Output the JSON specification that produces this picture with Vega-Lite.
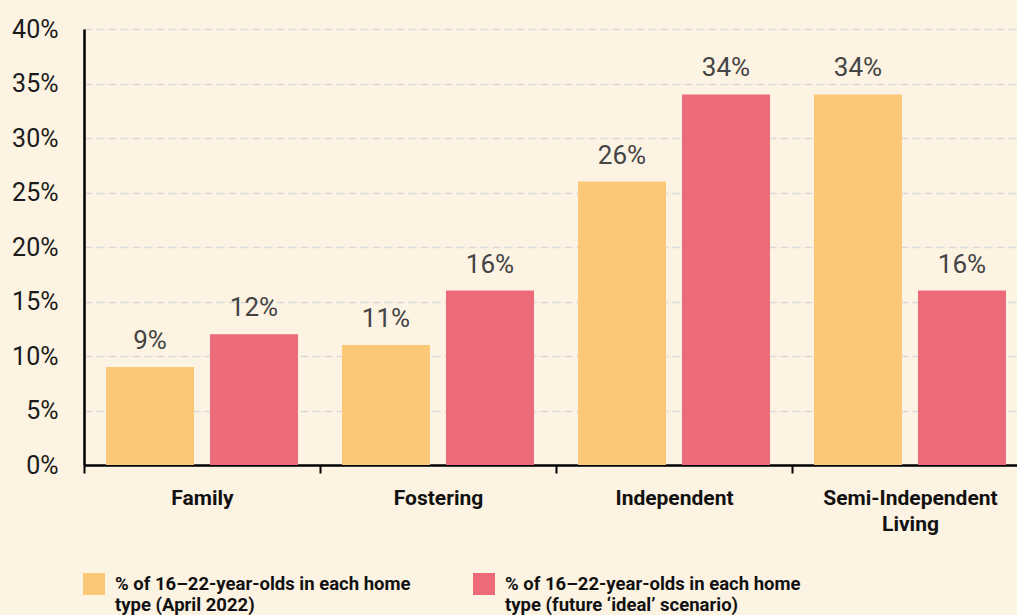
{
  "$schema": "https://vega.github.io/schema/vega-lite/v6.json",
  "width": 944,
  "height": 436,
  "autosize": "none",
  "padding": {"left": 84, "top": 29, "right": 0, "bottom": 150},
  "background": "#fdf3e3",
  "config": {
    "font": "Roboto",
    "view": {"stroke": null}
  },
  "data": {
    "values": [
      {"type": "Family", "series": "% of 16–22-year-olds in each home|type (April 2022)", "value": 0.09},
      {"type": "Family", "series": "% of 16–22-year-olds in each home|type (future ‘ideal’ scenario)", "value": 0.12},
      {"type": "Fostering", "series": "% of 16–22-year-olds in each home|type (April 2022)", "value": 0.11},
      {"type": "Fostering", "series": "% of 16–22-year-olds in each home|type (future ‘ideal’ scenario)", "value": 0.16},
      {"type": "Independent", "series": "% of 16–22-year-olds in each home|type (April 2022)", "value": 0.26},
      {"type": "Independent", "series": "% of 16–22-year-olds in each home|type (future ‘ideal’ scenario)", "value": 0.34},
      {"type": "Semi-Independent Living", "series": "% of 16–22-year-olds in each home|type (April 2022)", "value": 0.34},
      {"type": "Semi-Independent Living", "series": "% of 16–22-year-olds in each home|type (future ‘ideal’ scenario)", "value": 0.16}
    ]
  },
  "encoding": {
    "x": {
      "field": "type",
      "type": "nominal",
      "sort": ["Family", "Fostering", "Independent", "Semi-Independent Living"],
      "title": null,
      "scale": {"paddingInner": 0, "paddingOuter": 0},
      "axis": {
        "labelAngle": 0,
        "labelExpr": "datum.label == 'Semi-Independent Living' ? ['Semi-Independent', 'Living'] : datum.label",
        "labelFontSize": 21,
        "labelFontWeight": "bold",
        "labelColor": "#111111",
        "labelBaseline": "top",
        "labelPadding": 14,
        "labelLineHeight": 26,
        "labelLimit": 400,
        "domainColor": "#000000",
        "domainWidth": 2.5,
        "ticks": true,
        "tickBand": "extent",
        "tickColor": "#000000",
        "tickWidth": 2,
        "tickSize": 8,
        "grid": false
      }
    },
    "xOffset": {
      "field": "series",
      "type": "nominal",
      "sort": ["% of 16–22-year-olds in each home|type (April 2022)", "% of 16–22-year-olds in each home|type (future ‘ideal’ scenario)"],
      "scale": {"paddingInner": 0.1538, "paddingOuter": 0.2115}
    },
    "y": {
      "field": "value",
      "type": "quantitative",
      "title": null,
      "scale": {"domain": [0, 0.4], "nice": false},
      "axis": {
        "values": [0, 0.05, 0.1, 0.15, 0.2, 0.25, 0.3, 0.35, 0.4],
        "format": ".0%",
        "labelFontSize": 25,
        "labelColor": "#1a1a1a",
        "labelPadding": 26,
        "ticks": false,
        "domainColor": "#000000",
        "domainWidth": 2.5,
        "grid": true,
        "gridColor": "#d9d9d9",
        "gridWidth": 1.5,
        "gridDash": [8, 4]
      }
    }
  },
  "layer": [
    {
      "mark": {"type": "bar"},
      "encoding": {
        "color": {
          "field": "series",
          "type": "nominal",
          "sort": ["% of 16–22-year-olds in each home|type (April 2022)", "% of 16–22-year-olds in each home|type (future ‘ideal’ scenario)"],
          "scale": {"range": ["#fbc877", "#ed6b78"]},
          "legend": {
            "title": null,
            "orient": "none",
            "direction": "horizontal",
            "legendX": -1,
            "legendY": 544,
            "symbolType": "square",
            "symbolSize": 484,
            "symbolStrokeWidth": 0,
            "symbolOpacity": 1,
            "labelExpr": "split(datum.label, '|')",
            "labelFontSize": 18.5,
            "labelFontWeight": "bold",
            "labelColor": "#111111",
            "labelLineHeight": 21,
            "labelOffset": 10,
            "labelLimit": 500,
            "columnPadding": 62
          }
        }
      }
    },
    {
      "mark": {"type": "text", "baseline": "alphabetic", "dy": -18, "fontSize": 26, "color": "#444444"},
      "encoding": {
        "text": {"field": "value", "type": "quantitative", "format": ".0%"}
      }
    }
  ]
}
